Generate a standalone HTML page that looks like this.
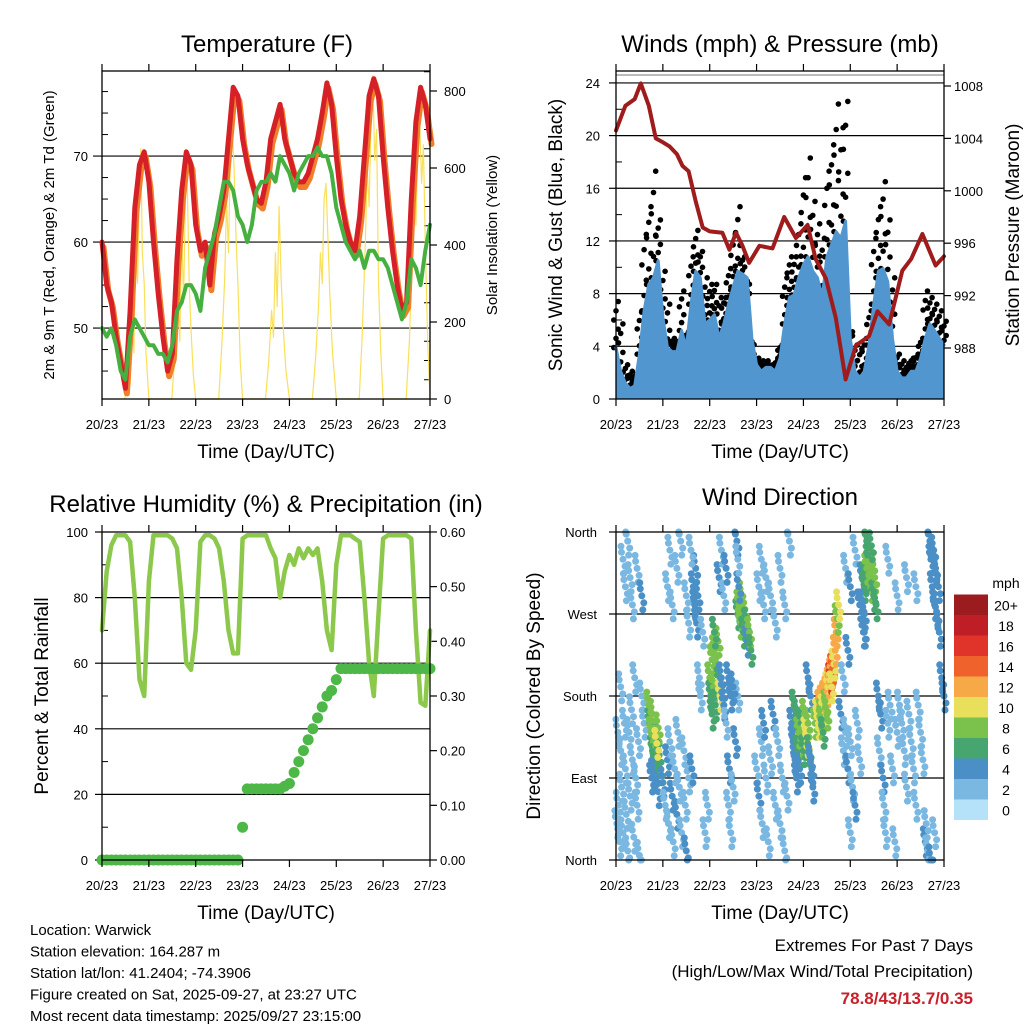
<!DOCTYPE html>
<html><head><meta charset="utf-8"><style>
body{margin:0;background:#fff}
svg{display:block;font-family:"Liberation Sans",sans-serif}
</style></head><body>
<svg id="s" width="1024" height="1024" viewBox="0 0 1024 1024" xmlns="http://www.w3.org/2000/svg"></svg>
<script>
// ---- data (step 0.1 day from 20/23) ----
const dayLabels=["20/23","21/23","22/23","23/23","24/23","25/23","26/23","27/23"];
const temp2m=[60,55,53,49,46,43,52,64,69,70.5, 67,60,54,49,45,47,58,66,70.5,69, 62,59,60,55,61,63,66,72,78,77, 72,69,67,65,64.5,67,72,74,76,72, 70,68,67,67,68,70,72,75,78.5,76, 70,65,62,60,59,63,70,77,79,77, 70,64,59,55,52,53,65,74,78,76, 72];
const dewpt=[50,49,50,48,45,44,49,51,50,49, 48,48,47,47,46,48,52,53,55,55, 54,52,57,59,61,64,67,67,66,63, 62,60,62,66,67,67,68,67,70,69, 68,66,68,69,70,70,71,70,70,68, 64,62,60,59,58,59,57,59,59,58, 58,57,55,53,51,53,58,57,55,59, 62];
const solarDays=[[0.49,0],[0.55,90],[0.6,40],[0.64,260],[0.68,120],[0.72,420],[0.76,300],[0.8,560],[0.83,650],[0.86,380],[0.9,300],[0.94,120],[1.0,0],
[1.49,0],[1.56,120],[1.62,300],[1.66,150],[1.7,450],[1.74,250],[1.78,520],[1.82,560],[1.86,300],[1.9,180],[1.95,60],[2.0,0],
[2.49,0],[2.56,150],[2.62,320],[2.66,520],[2.7,380],[2.74,640],[2.78,700],[2.82,600],[2.86,420],[2.9,300],[2.95,100],[3.0,0],
[3.49,0],[3.56,100],[3.62,230],[3.66,160],[3.7,380],[3.74,240],[3.78,500],[3.82,320],[3.86,200],[3.92,80],[4.0,0],
[4.49,0],[4.56,110],[4.62,240],[4.66,380],[4.7,300],[4.74,520],[4.78,560],[4.82,420],[4.86,280],[4.92,120],[5.0,0],
[5.49,0],[5.55,160],[5.62,400],[5.66,600],[5.7,500],[5.74,720],[5.78,840],[5.82,620],[5.86,700],[5.9,300],[5.95,120],[6.0,0],
[6.49,0],[6.56,150],[6.62,380],[6.66,560],[6.7,450],[6.74,650],[6.78,720],[6.82,560],[6.86,660],[6.9,400],[6.95,150],[7.0,0]];
const wind=[3.9,2.1,1.2,0.8,1,3.4,6.7,8.7,9.2,10.5, 6.2,3.9,3.6,3.6,5.2,3.9,7.2,9.7,9.2,5.7, 6,6.4,4.6,5.7,7.2,8.5,9.7,9.5,9.2,4.6, 2.6,2.1,2.4,2.4,2.1,3.1,5.7,7.7,7.9,9.2, 10.2,10.8,9.7,9.2,7.7,10.8,11.7,12.7,12.2,13.5, 4.6,2.1,1.6,2.1,4.1,7.2,9.7,9.9,8.9,4.6, 2.1,1.6,1.6,2.1,2.1,3.1,4.6,5.7,5.2,4.6, 4.1];
const gust=[7.4,5.7,2.6,2.1,1.9,6.6,12.5,14.6,17.3,13.6, 9.7,7.2,4.6,4.4,8.2,5.1,10.8,12.8,11.2,9.2, 8.7,8.7,7.7,7.7,9.9,12.5,14.6,10.8,8,3.4, 3.1,2.9,2.9,2.6,2.9,4.1,9.2,10.8,10.8,13.3, 16.8,18.3,15,13.3,12.2,17.3,19.3,22.4,20.6,22.6, 5.1,4.1,3.8,4.6,6.7,12.2,14.6,16.5,13.6,9.2, 3.4,2.9,2.6,3.1,3.4,4.6,8.2,7.7,7.2,6.7, 5.9];
const pressT=[0,0.2,0.4,0.53,0.7,0.85,1.0,1.14,1.3,1.42,1.55,1.7,1.85,2.0,2.27,2.42,2.56,2.7,2.84,3.06,3.34,3.59,3.84,4.09,4.26,4.48,4.69,4.9,5.12,5.4,5.58,5.83,6.11,6.3,6.54,6.82,7.0];
const pressV=[1004.6,1006.5,1007,1008.2,1006.5,1004,1003.7,1003.4,1002.8,1001.9,1001.5,999.2,997.2,996.9,996.8,995.5,996.8,995.8,994.5,995.8,995.6,998,996.4,997.4,994.8,993.3,990.3,985.6,988.2,988.9,990.8,989.8,993.9,994.8,996.7,994.3,995];
const rh=[70,88,96,99,99,99,97,80,55,50, 85,99,99,99,99,98,95,80,60,58, 70,97,99,99,98,95,85,70,63,63, 98,99,99,99,99,99,95,92,80,88, 93,90,95,92,95,93,95,85,70,64, 90,99,99,99,98,97,80,60,50,75, 98,99,99,99,99,99,98,70,48,47, 70];
const precip=[0,0,0,0,0,0,0,0,0,0, 0,0,0,0,0,0,0,0,0,0, 0,0,0,0,0,0,0,0,0,0, 0.06,0.13,0.13,0.13,0.13,0.13,0.13,0.13,0.13,0.135, 0.14,0.16,0.18,0.2,0.22,0.24,0.26,0.28,0.3,0.31, 0.33,0.35,0.35,0.35,0.35,0.35,0.35,0.35,0.35,0.35, 0.35,0.35,0.35,0.35,0.35,0.35,0.35,0.35,0.35,0.35, 0.35];
const dirObs="0.02,40,1 0.05,60,2 0.08,20,1 0.1,120,1 0.12,80,2 0.15,30,1 0.18,150,1 0.2,100,2 0.22,50,1 0.25,10,1 0.28,140,1 0.3,70,1 0.33,165,1 0.35,110,2 0.38,25,1 0.4,200,1 0.42,90,1 0.45,60,2 0.48,130,1 0.5,5,1 0.15,330,1 0.2,300,1 0.25,350,1 0.3,310,1 0.35,280,1 0.45,320,1 0.55,290,3 0.55,180,1 0.6,150,1 0.04,140,1 0.1,190,1 "+
"0.72,150,6 0.75,140,7 0.78,120,6 0.8,130,8 0.82,110,6 0.85,125,8 0.88,135,6 0.9,145,7 0.92,115,5 0.95,100,6 0.78,160,8 0.84,100,5 0.87,128,10 0.76,90,4 0.8,95,4 0.9,75,4 0.7,170,8 "+
"1.0,85,3 1.05,60,2 1.1,110,3 1.12,40,1 1.15,130,1 1.2,70,3 1.22,20,1 1.25,100,2 1.3,50,3 1.32,140,1 1.35,80,2 1.4,30,1 1.45,120,2 1.48,60,1 1.5,10,3 1.55,90,1 1.1,300,1 1.15,340,1 1.2,280,2 1.3,320,1 1.38,350,1 1.5,290,2 1.55,260,1 "+
"1.65,300,4 1.68,280,3 1.7,320,4 1.72,260,3 1.75,290,3 1.6,340,1 1.78,200,2 1.8,180,1 1.85,250,2 1.9,30,1 1.95,60,1 1.62,100,3 "+
"2.0,200,7 2.02,180,6 2.05,220,8 2.08,190,7 2.1,230,8 2.12,170,6 2.15,210,7 2.18,240,8 2.2,195,6 2.22,180,10 2.05,160,6 2.1,250,6 2.25,200,4 2.28,185,4 2.3,170,3 "+
"2.2,310,3 2.25,340,2 2.3,290,1 2.35,320,3 2.4,60,2 2.42,100,3 2.45,30,1 2.5,80,2 2.55,130,3 2.6,180,2 2.35,150,2 2.4,200,3 2.45,180,4 2.5,190,4 "+
"2.6,270,6 2.62,280,7 2.65,260,8 2.68,290,7 2.7,270,8 2.72,250,6 2.75,275,8 2.78,260,6 2.8,240,4 2.62,300,4 2.58,350,3 2.6,330,2 2.85,250,8 2.88,230,6 "+
"3.0,100,1 3.05,70,3 3.1,130,1 3.12,40,1 3.15,150,3 3.2,90,2 3.25,20,1 3.3,110,2 3.35,160,3 3.4,60,1 3.45,130,2 3.5,40,1 3.55,90,2 3.6,10,1 3.65,70,1 3.05,300,1 3.1,330,1 3.15,280,2 3.2,310,1 3.3,290,1 3.4,260,2 3.5,320,1 3.6,280,1 3.7,350,1 "+
"3.75,150,4 3.78,130,4 3.8,170,5 3.82,110,4 3.85,160,6 3.88,120,5 3.9,140,7 3.92,100,4 3.95,150,6 3.98,130,8 4.0,120,6 4.02,160,7 4.05,140,10 4.08,130,9 4.1,150,8 4.12,120,6 4.15,110,4 4.18,100,3 4.2,80,4 3.85,90,3 4.1,200,4 4.15,180,4 "+
"4.25,150,8 4.3,160,10 4.32,150,9 4.35,170,11 4.38,160,8 4.4,175,12 4.42,165,9 4.45,180,11 4.48,170,8 4.5,185,12 4.52,190,10 4.55,195,12 4.58,200,15 4.6,205,12 4.62,210,13 4.65,215,10 4.68,230,12 4.7,250,11 4.72,265,8 4.75,280,9 4.38,150,7 4.5,160,8 4.42,140,6 4.6,190,10 "+
"4.8,160,3 4.85,120,2 4.9,140,1 4.95,100,3 5.0,130,2 5.05,80,1 5.1,60,3 5.15,150,2 5.2,110,1 4.95,230,3 4.85,200,2 5.0,30,1 4.9,320,2 5.1,340,1 5.0,300,3 5.2,280,4 5.25,310,4 5.3,250,3 "+
"5.25,280,4 5.3,300,5 5.32,310,6 5.35,320,7 5.38,330,6 5.4,340,6 5.42,315,8 5.45,300,8 5.48,325,8 5.5,290,6 5.52,310,8 5.55,280,6 5.35,350,6 5.45,345,6 5.3,270,4 5.28,250,4 "+
"5.6,180,3 5.62,120,2 5.65,160,3 5.7,90,3 5.72,60,2 5.75,30,1 5.8,150,2 5.85,170,1 5.9,100,1 5.95,20,1 6.0,140,1 6.05,170,1 6.1,150,2 6.15,120,1 6.2,80,1 6.25,160,1 6.3,130,1 6.35,100,2 6.4,60,1 6.45,170,1 6.5,140,1 6.55,110,1 5.8,330,1 6.0,290,1 6.2,310,1 6.4,300,2 "+
"6.6,20,3 6.62,40,2 6.65,10,1 6.7,350,4 6.72,330,4 6.75,300,3 6.78,340,4 6.8,280,4 6.82,320,3 6.85,270,3 6.88,300,4 6.9,250,4 6.95,200,3 7.0,180,4 6.72,0,4 6.8,30,2";
const speedLabels=["0","2","4","6","8","10","12","14","16","18","20+"];
const speedColors=["#b5e2f8","#7ab8e2","#4a8fc6","#47a570","#7bc24c","#e8e05a","#f8a947","#f0622c","#e0342b","#c01e27","#9b1b1e"];

// ---- helpers ----
const S=document.getElementById('s');const NS="http://www.w3.org/2000/svg";
function el(tag,attrs,parent){const e=document.createElementNS(NS,tag);for(const k in attrs)e.setAttribute(k,attrs[k]);(parent||S).appendChild(e);return e;}
function txt(str,x,y,size,anchor,parent,extra){const e=el('text',Object.assign({x:x,y:y,'font-size':size,'text-anchor':anchor||'middle',fill:'#000'},extra||{}),parent);e.textContent=str;return e;}
function grp(name){const g=el('g',{});return g;}
function line(x1,y1,x2,y2,p,w,c){return el('line',{x1:x1,y1:y1,x2:x2,y2:y2,stroke:c||'#000','stroke-width':w||1},p);}
function poly(pts,p,w,c,extra){return el('polyline',Object.assign({points:pts.map(q=>q[0].toFixed(1)+','+q[1].toFixed(1)).join(' '),fill:'none',stroke:c,'stroke-width':w,'stroke-linejoin':'round','stroke-linecap':'round'},extra||{}),p);}
const ti=i=>i/10;

function frame(p,x0,y0,x1,y1,xs,name){
  const g=grp(name+'-x-axis');
  for(let d=0;d<=7;d++){const x=xs(d);line(x,y1,x,y1+7,g,1.2);line(x,y0,x,y0-7,g,1.2);
    txt(dayLabels[d],x,y1+30,13,'middle',g);}
  const xt=txt('Time (Day/UTC)',(x0+x1)/2,y1+59,19,'middle',g);
  
}
function box(x0,y0,x1,y1,name){const r=el('rect',{x:x0,y:y0,width:x1-x0,height:y1-y0,fill:'none',stroke:'#000','stroke-width':1.3});}

// ================= Panel 1: Temperature =================
{const x0=102,x1=430,y0=71,y1=399;
const X=t=>x0+t*(x1-x0)/7, YT=v=>y1-(v-41.75)*8.6, YS=v=>y1-v*0.385;
const g=grp('temperature-panel');
txt('Temperature (F)',267,52,24,'middle',g);
[50,60,70].forEach(v=>{line(93,YT(v),x1,YT(v),g,1.2);txt(String(v),88,YT(v)+5,13,'end',g);});
for(let v=45;v<=77.5;v+=2.5){if(v%10)line(x0,YT(v),x0+6,YT(v),g,1);}
for(let v=0;v<=800;v+=200){line(x1,YS(v),x1+7,YS(v),g,1.2);txt(String(v),x1+14,YS(v)+5,13,'start',g);}
for(let v=50;v<=850;v+=50){if(v%200)line(x1-6,YS(v),x1,YS(v),g,1);}
const sol=grp('solar-insolation-series');
poly(solarDays.map(q=>[X(q[0]),YS(q[1])]),sol,1.2,'#f9e05a');
const o=grp('temp-9m-series');poly(temp2m.map((v,i)=>[X(ti(i))+1.5,YT(v-0.6)]),o,6,'#f07f2a');
const r=grp('temp-2m-series');poly(temp2m.map((v,i)=>[X(ti(i)),YT(v)]),r,5,'#d42026');
const gd=grp('dewpoint-series');poly(dewpt.map((v,i)=>[X(ti(i)),YT(v)]),gd,4,'#45b040',{'stroke-dasharray':'3 1'});
box(x0,y0,x1,y1,'temperature');frame(g,x0,y0,x1,y1,X,'temperature');
txt('2m & 9m T (Red, Orange) & 2m Td (Green)',0,0,15,'middle',g,{transform:'translate(54,235) rotate(-90)'});
txt('Solar Insolation (Yellow)',0,0,15,'middle',g,{transform:'translate(497,235) rotate(-90)'});
}

// ================= Panel 2: Winds =================
{const x0=616,x1=944,y0=71,y1=399;
const X=t=>x0+t*(x1-x0)/7, YW=v=>y1-v*13.17, YP=v=>348-(v-988)*13.1;
const g=grp('winds-panel');
txt('Winds (mph) & Pressure (mb)',780,52,24,'middle',g);
for(let v=0;v<=24;v+=4){if(v>0)line(x0,YW(v),x1,YW(v),g,1.2);line(x0-7,YW(v),x0,YW(v),g,1.2);txt(String(v),600,YW(v)+5,13,'end',g);}
for(let v=2;v<=24;v+=4)line(x0,YW(v),x0+6,YW(v),g,1);
for(let v=988;v<=1008;v+=4){line(x1,YP(v),x1+7,YP(v),g,1.2);txt(String(v),x1+10,YP(v)+5,13,'start',g);}
const gg=grp('gust-series');
const wg=grp('sonic-wind-series');
gust.forEach((v,i)=>{
  const w=wind[i];
  [0,0.2,0.4,0.6,0.8,1].forEach((k,j)=>{
    el('circle',{cx:(X(ti(i))+(j%3-1)*2.2).toFixed(1),cy:YW(w+(v-w)*k).toFixed(1),r:2.8,fill:'#000'},gg);});
});
const pts=wind.map((v,i)=>[X(ti(i)),YW(v)]);
el('polygon',{points:[[X(0),YW(0)],...pts,[X(7),YW(0)]].map(q=>q[0].toFixed(1)+','+q[1].toFixed(1)).join(' '),fill:'#5296d0'},wg);
poly(pts,wg,3,'#5296d0');
const pg=grp('pressure-series');poly(pressV.map((v,i)=>[X(pressT[i]),YP(v)]),pg,4,'#a01c1c');
line(x0,75,x1,75,g,1,'#777');
box(x0,y0,x1,y1,'winds');frame(g,x0,y0,x1,y1,X,'winds');
txt('Sonic Wind & Gust (Blue, Black)',0,0,19,'middle',g,{transform:'translate(562,235) rotate(-90)'});
txt('Station Pressure (Maroon)',0,0,19,'middle',g,{transform:'translate(1019,235) rotate(-90)'});
}

// ================= Panel 3: RH & precip =================
{const x0=102,x1=430,y0=532,y1=860;
const X=t=>x0+t*(x1-x0)/7, YR=v=>y1-v*3.28, YP=v=>y1-v*546.7;
const g=grp('humidity-panel');
txt('Relative Humidity (%) & Precipitation (in)',266,512,24,'middle',g);
for(let v=0;v<=100;v+=20){if(v>0&&v<100)line(x0,YR(v),x1,YR(v),g,1.2);line(x0-7,YR(v),x0,YR(v),g,1.2);txt(String(v),88,YR(v)+5,13,'end',g);}
for(let v=10;v<100;v+=20)line(x0,YR(v),x0+6,YR(v),g,1);
for(let v=0;v<=0.6001;v+=0.1){line(x1,YP(v),x1+7,YP(v),g,1.2);txt(v.toFixed(2),x1+10,YP(v)+5,13,'start',g);}
const rg=grp('relative-humidity-series');poly(rh.map((v,i)=>[X(ti(i)),YR(v)]),rg,4.5,'#8cc84b');
const pg=grp('precipitation-series');precip.forEach((v,i)=>el('circle',{cx:X(ti(i)),cy:YP(v),r:5.5,fill:'#4db848'},pg));
box(x0,y0,x1,y1,'humidity');frame(g,x0,y0,x1,y1,X,'humidity');
txt('Percent & Total Rainfall',0,0,19,'middle',g,{transform:'translate(48,696) rotate(-90)'});
}

// ================= Panel 4: Wind direction =================
{const x0=616,x1=944,y0=532,y1=860;
const X=t=>x0+t*(x1-x0)/7, YD=d=>y1-d*(y1-y0)/360;
const g=grp('wind-direction-panel');
txt('Wind Direction',780,505,24,'middle',g);
const dl=["North","East","South","West","North"];
dl.forEach((s,i)=>{const y=YD(i*90);if(i>0&&i<4)line(x0,y,x1,y,g,1.2);line(x0-7,y,x0,y,g,1.2);txt(s,597,y+5,13,'end',g);});
const sg=grp('direction-points');
const offs=[[0,0],[2,7],[-1.5,-7],[1,14],[-2,-13]];
dirObs.split(' ').forEach(r=>{const [t,d,s]=r.split(',').map(Number);const ci=Math.min(10,Math.round(s/2));
  offs.forEach(o=>{const cy=Math.max(y0,Math.min(y1,YD(d)+o[1]));
    el('circle',{cx:(X(t)+o[0]).toFixed(1),cy:cy.toFixed(1),r:3.5,fill:speedColors[ci]},sg);});});
box(x0,y0,x1,y1,'wind-direction');frame(g,x0,y0,x1,y1,X,'wind-direction');
txt('Direction (Colored By Speed)',0,0,19,'middle',g,{transform:'translate(540,696) rotate(-90)'});
const lg=grp('speed-colorbar');
txt('mph',1006,588,14,'middle',lg);
speedColors.forEach((c,i)=>{const y=820-(i+1)*20.5;el('rect',{x:954,y:y,width:34,height:20.5,fill:c},lg);txt(speedLabels[i],1006,y+16,14,'middle',lg);});
}

// ================= footer =================
{const g=grp('station-info');
["Location: Warwick","Station elevation: 164.287 m","Station lat/lon: 41.2404; -74.3906","Figure created on Sat, 2025-09-27, at 23:27 UTC","Most recent data timestamp: 2025/09/27 23:15:00"].forEach((s,i)=>txt(s,30,935+i*21.5,15,'start',g));
const e=grp('extremes-summary');
txt('Extremes For Past 7 Days',973,951,17,'end',e);
txt('(High/Low/Max Wind/Total Precipitation)',973,977,17,'end',e);
txt('78.8/43/13.7/0.35',973,1004,17,'end',e,{fill:'#c8202a','font-weight':'bold'});
}
</script>
</body></html>
